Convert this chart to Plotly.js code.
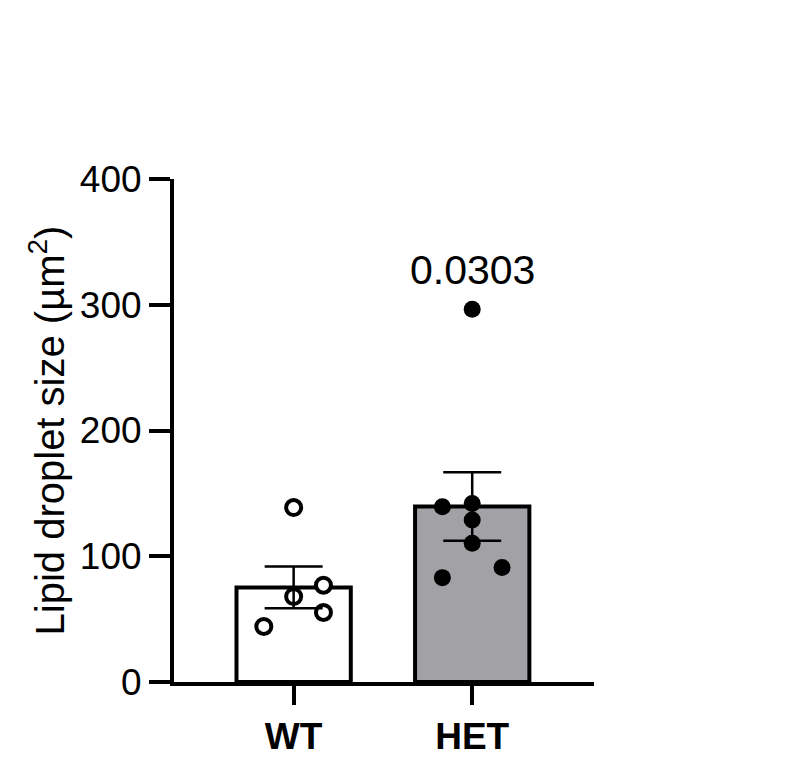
<!DOCTYPE html>
<html>
<head>
<meta charset="utf-8">
<script src="https://cdn.plot.ly/plotly-3.0.1.min.js"></script>
<style>
  html, body { margin: 0; padding: 0; background: #fff; }
  #chart { width: 799px; height: 776px; }
</style>
</head>
<body>
<div id="chart"></div>
<script>
// values
const groups = ['WT', 'HET'];
const means = [75.2, 139.5];
const sems = [16.6, 27.2];

const wtValues = [138.7, 77.0, 68.0, 55.3, 44.2];
const wtCols = [0, 1, 0, 1, -1];
const hetValues = [296.5, 139.4, 142.0, 128.8, 110.3, 83.0, 91.0];
const hetCols = [0, -1, 0, 0, 0, -1, 1];

const pLabel = '0.0303';
const pLabelY = 328;

const yTicks = [0, 100, 200, 300, 400];

const font = '"Liberation Sans", Arial, sans-serif';
const jitter = 0.167;
const groupX = groups.map((g, i) => i);

let bars = {
    type: 'bar',
    x: groupX,
    y: means,
    width: 0.64,
    marker: {
        color: ['#ffffff', '#a2a2a6'],
        line: { color: '#000', width: 4 }
    },
    hoverinfo: 'skip'
};

let wtPoints = {
    type: 'scatter',
    mode: 'markers',
    x: wtCols.map((c) => groupX[0] + c * jitter),
    y: wtValues,
    marker: { size: 15, color: '#fff', line: { color: '#000', width: 4 } }
};

let hetPoints = {
    type: 'scatter',
    mode: 'markers',
    x: hetCols.map((c) => groupX[1] + c * jitter),
    y: hetValues,
    marker: { size: 17, color: '#000', line: { width: 0 } }
};

// error bars drawn last so they sit on top of the dots
let errors = {
    type: 'scatter',
    mode: 'markers',
    x: groupX,
    y: means,
    marker: { size: 1, opacity: 0 },
    error_y: {
        type: 'data',
        array: sems,
        visible: true,
        color: '#000',
        thickness: 2.5,
        width: 29
    }
};

let layout = {
    width: 799,
    height: 776,
    margin: { l: 174, r: 205, t: 179, b: 94 },
    paper_bgcolor: '#fff',
    plot_bgcolor: '#fff',
    showlegend: false,
    font: { family: font, color: '#000' },
    xaxis: {
        range: [-0.67, 1.682],
        tickvals: groupX,
        ticktext: groups.map((g) => '<b>' + g + '</b>'),
        ticks: 'outside',
        ticklen: 19,
        tickwidth: 4,
        tickcolor: '#000',
        showline: true,
        linewidth: 4,
        linecolor: '#000',
        showgrid: false,
        zeroline: false,
        tickfont: { size: 37, family: font }
    },
    yaxis: {
        range: [0, 400],
        tickvals: yTicks,
        ticks: 'outside',
        ticklen: 21,
        tickwidth: 4,
        tickcolor: '#000',
        showline: true,
        linewidth: 4,
        linecolor: '#000',
        showgrid: false,
        zeroline: false,
        tickfont: { size: 37, family: font },
        title: {
            text: 'Lipid droplet size (µm<sup>2</sup>)',
            font: { size: 40, family: font },
            standoff: 4
        }
    },
    annotations: [{
        x: groupX[1],
        y: pLabelY,
        xref: 'x',
        yref: 'y',
        text: pLabel,
        showarrow: false,
        font: { size: 41, family: font, color: '#000' },
        xanchor: 'center',
        yanchor: 'middle'
    }]
};

Plotly.newPlot('chart', [bars, wtPoints, hetPoints, errors], layout, { displayModeBar: false, staticPlot: true });
</script>
</body>
</html>
